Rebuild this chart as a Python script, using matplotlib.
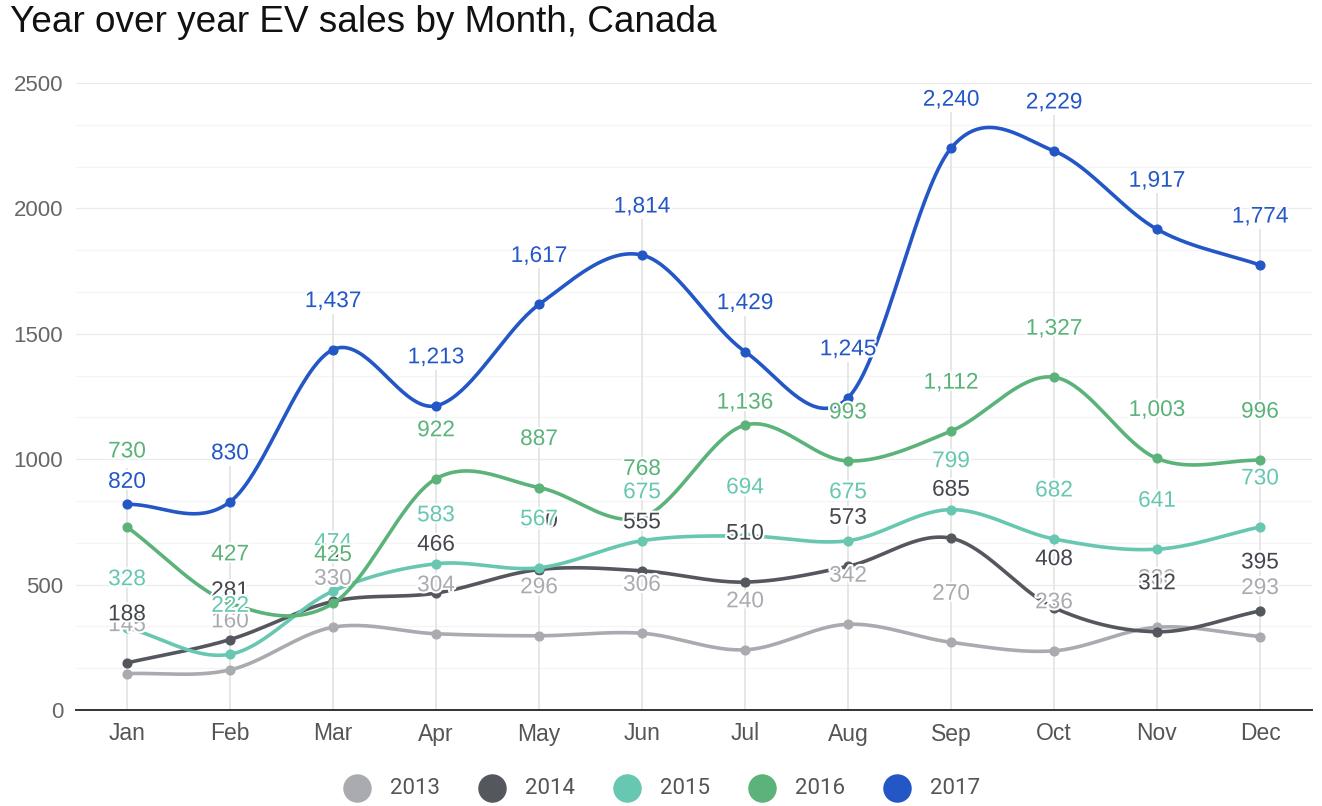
import numpy as np
import matplotlib
matplotlib.use("Agg")
import matplotlib.pyplot as plt
import matplotlib.patheffects as pe
from matplotlib.lines import Line2D

months = ["Jan", "Feb", "Mar", "Apr", "May", "Jun", "Jul", "Aug", "Sep", "Oct", "Nov", "Dec"]
years = ["2013", "2014", "2015", "2016", "2017"]
sales_2013 = [145, 160, 330, 304, 296, 306, 240, 342, 270, 236, 330, 293]
sales_2014 = [188, 281, 433, 466, 560, 555, 510, 573, 685, 408, 312, 395]
sales_2015 = [328, 222, 474, 583, 567, 675, 694, 675, 799, 682, 641, 730]
sales_2016 = [730, 427, 425, 922, 887, 768, 1136, 993, 1112, 1327, 1003, 996]
sales_2017 = [820, 830, 1437, 1213, 1617, 1814, 1429, 1245, 2240, 2229, 1917, 1774]
yticks = [0, 500, 1000, 1500, 2000, 2500]

series = [sales_2013, sales_2014, sales_2015, sales_2016, sales_2017]
colors = ["#a9abb0", "#55575f", "#68c7b1", "#5bb37a", "#2357c6"]
text_colors = ["#a9abb0", "#45474f", "#68c7b1", "#5bb37a", "#2357c6"]

# label offsets in pixels above points (default 49); a few were shifted in the reference
label_offsets = {(4, 0): 23, (3, 0): 76, (3, 6): 23}


def smooth(y, n=40):
    y = np.asarray(y, float)
    k = len(y)
    m = np.zeros(k)
    m[1:-1] = (y[2:] - y[:-2]) / 2.0
    m[0] = y[1] - y[0]
    m[-1] = y[-1] - y[-2]
    xs, ys = [], []
    t = np.linspace(0, 1, n, endpoint=False)
    for i in range(k - 1):
        h00 = 2 * t**3 - 3 * t**2 + 1
        h10 = t**3 - 2 * t**2 + t
        h01 = -2 * t**3 + 3 * t**2
        h11 = t**3 - t**2
        ys.append(h00 * y[i] + h10 * m[i] + h01 * y[i + 1] + h11 * m[i + 1])
        xs.append(i + t)
    xs.append([k - 1])
    ys.append([y[-1]])
    return np.concatenate(xs), np.concatenate(ys)


W, H = 1322, 806
fig = plt.figure(figsize=(W / 100, H / 100), dpi=100)
ax = fig.add_axes([75.5 / W, 96 / H, 1236 / W, 627 / H])
ax.set_xlim(-0.5, 11.5)
ax.set_ylim(0, 2500)
px_per_unit = 627 / 2500

# grid
for k, v in enumerate(np.linspace(0, 2500, 16)):
    ax.axhline(v, color="#ebebeb" if k % 3 == 0 else "#f4f4f4", lw=0.9, zorder=0)
x = np.arange(len(months))
tops = np.max(np.array(series), axis=0)
ax.vlines(x, 0, tops + 36 / px_per_unit, color="#e3e3e3", lw=1.2, zorder=0.5)

for i, (vals, c) in enumerate(zip(series, colors)):
    xs, ys = smooth(vals)
    ax.plot(xs, ys, color=c, lw=2.6, zorder=2 + i, solid_capstyle="round")
    ax.plot(x, vals, "o", color=c, ms=6.3, zorder=2 + i)

for i, (vals, c) in enumerate(zip(series, text_colors)):
    for j, v in enumerate(vals):
        off = label_offsets.get((i, j), 49)
        lab = f"{v:,}"
        ax.annotate(lab, (j, v), xytext=(0, off * 0.72), textcoords="offset points",
                    ha="center", va="center", fontsize=16.3, color=c,
                    family="Liberation Sans", zorder=10 + i,
                    path_effects=[pe.withStroke(linewidth=3, foreground="white")])

for s in ["top", "right", "left"]:
    ax.spines[s].set_visible(False)
ax.spines["bottom"].set_color("#333333")
ax.spines["bottom"].set_linewidth(1.4)
ax.set_xticks(x)
ax.set_xticklabels(months, family="Liberation Sans", fontsize=16.5, color="#555555")
ax.set_yticks(yticks)
ax.set_yticklabels([str(t) for t in yticks], family="Liberation Sans", fontsize=16, color="#666666")
ax.tick_params(axis="both", length=0)
ax.tick_params(axis="x", pad=9)
ax.tick_params(axis="y", pad=9)

fig.text(10 / W, 1 - 22 / H, "Year over year EV sales by Month, Canada", family="Liberation Sans",
         fontsize=26.6, color="#111111", va="center", ha="left")

# legend drawn manually
for i, (yr, c) in enumerate(zip(years, colors)):
    cx = (357 + 135 * i) / W
    cy = 1 - 788 / H
    fig.add_artist(Line2D([cx], [cy], marker="o", ls="none", ms=19.5, color=c,
                          transform=fig.transFigure))
    fig.text(cx + 33 / W, cy, yr, family="Roboto", fontsize=16, color="#555555",
             va="center", ha="left")

fig.savefig("out.png", dpi=100)
